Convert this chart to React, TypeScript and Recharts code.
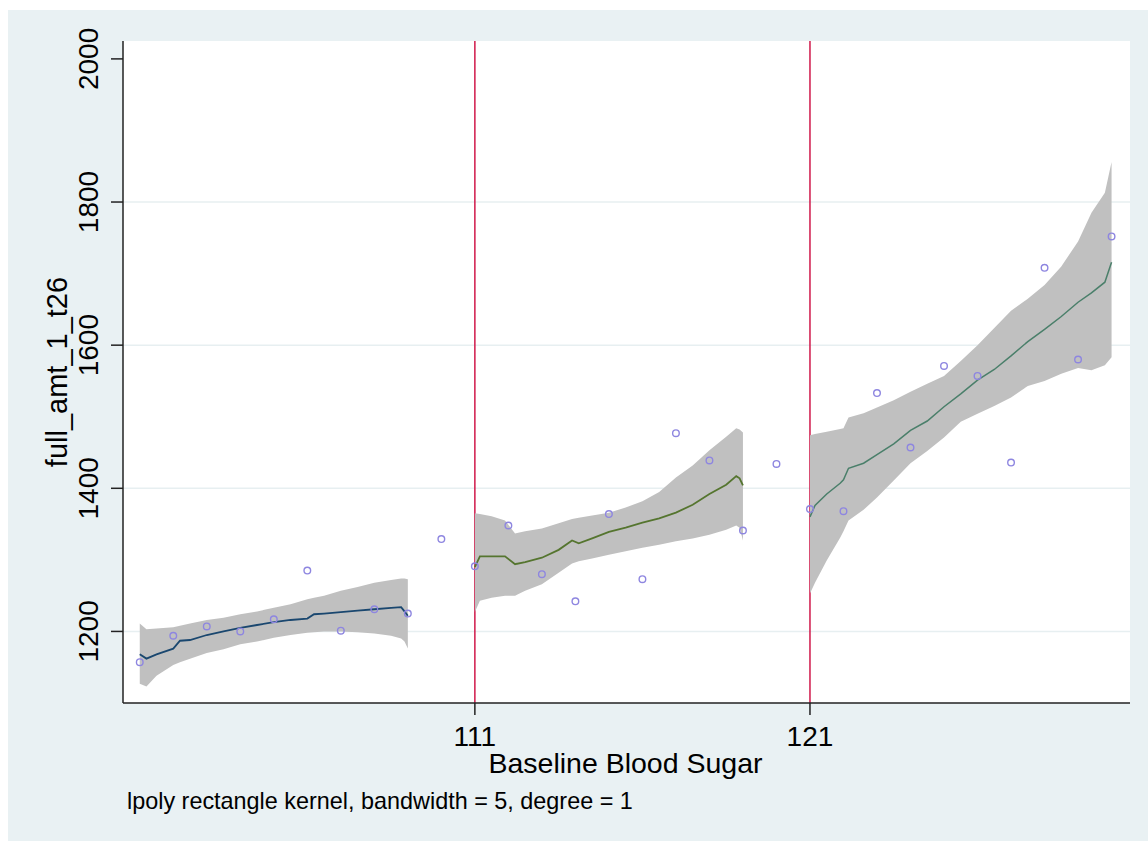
import React from 'react';
import {
  ComposedChart, Area, Line, Scatter, XAxis, YAxis, CartesianGrid, Label,
} from 'recharts';

// observed points
const sugar = [101, 102, 103, 104, 105, 106, 107, 108, 109, 110,
  111, 112, 113, 114, 115, 116, 117, 118, 119, 120,
  121, 122, 123, 124, 125, 126, 127, 128, 129, 130];
const amount = [1157, 1194, 1207, 1200, 1217, 1285, 1201, 1231, 1225, 1329,
  1291, 1348, 1280, 1242, 1364, 1273, 1477, 1439, 1341, 1434,
  1371, 1368, 1533, 1457, 1571, 1557, 1436, 1708, 1580, 1752];

// lpoly fit + CI, below 111
const seg1X = [101, 101.2, 101.5, 102, 102.2, 102.5, 103, 103.5, 104, 104.5, 105, 105.5, 106, 106.2, 106.5, 107, 107.5, 108, 108.5, 108.8, 108.9, 109];
const seg1Fit = [1168, 1162, 1168, 1176, 1187, 1188, 1195, 1200, 1205, 1209, 1213, 1216, 1218, 1224, 1225, 1227, 1229, 1231, 1233, 1234, 1228, 1222];
const seg1Hi = [1211, 1203, 1204, 1206, 1208, 1211, 1216, 1219, 1224, 1228, 1233, 1238, 1245, 1247, 1250, 1257, 1262, 1268, 1272, 1274, 1274, 1273];
const seg1Lo = [1127, 1123, 1138, 1153, 1157, 1162, 1170, 1175, 1182, 1186, 1191, 1195, 1198, 1199, 1200, 1200, 1199, 1197, 1194, 1190, 1186, 1176];

// 111 - 119
const seg2X = [111, 111.15, 111.5, 111.9, 112.2, 112.5, 113, 113.5, 113.9, 114.1, 114.5, 115, 115.5, 116, 116.5, 117, 117.5, 118, 118.5, 118.8, 118.9, 119];
const seg2Fit = [1290, 1305, 1305, 1305, 1294, 1297, 1303, 1314, 1327, 1323, 1330, 1339, 1345, 1352, 1358, 1366, 1377, 1392, 1405, 1417, 1414, 1404];
const seg2Hi = [1365, 1364, 1361, 1355, 1337, 1340, 1344, 1351, 1357, 1359, 1362, 1366, 1373, 1382, 1395, 1415, 1432, 1453, 1472, 1484, 1482, 1478];
const seg2Lo = [1227, 1243, 1247, 1250, 1250, 1257, 1266, 1282, 1295, 1298, 1302, 1307, 1312, 1317, 1321, 1326, 1330, 1335, 1342, 1348, 1345, 1327];

// 121 and up
const seg3X = [121, 121.15, 121.5, 121.9, 122, 122.15, 122.6, 123, 123.5, 124, 124.5, 125, 125.5, 126, 126.5, 127, 127.5, 128, 128.5, 129, 129.4, 129.8, 130];
const seg3Fit = [1360, 1376, 1392, 1407, 1412, 1428, 1435, 1447, 1462, 1481, 1494, 1514, 1532, 1551, 1566, 1585, 1605, 1622, 1640, 1660, 1673, 1688, 1716];
const seg3Hi = [1474, 1476, 1479, 1483, 1484, 1499, 1505, 1513, 1523, 1535, 1546, 1557, 1578, 1600, 1624, 1648, 1665, 1684, 1710, 1745, 1785, 1813, 1856];
const seg3Lo = [1253, 1268, 1299, 1331, 1340, 1355, 1370, 1387, 1411, 1435, 1452, 1471, 1493, 1504, 1515, 1527, 1543, 1550, 1560, 1568, 1565, 1572, 1583];

const cutoffs = [111, 121];
const yTicks = [1200, 1400, 1600, 1800, 2000];
const gridValues = [1200, 1400, 1600, 1800];

const build = (xs: number[], fit: number[], lo: number[], hi: number[]) =>
  xs.map((x, i) => ({ x, fit: fit[i], lo: lo[i], hi: hi[i] }));

const seg1 = build(seg1X, seg1Fit, seg1Lo, seg1Hi);
const seg2 = build(seg2X, seg2Fit, seg2Lo, seg2Hi);
const seg3 = build(seg3X, seg3Fit, seg3Lo, seg3Hi);
const points = sugar.map((x, i) => ({ x, y: amount[i] }));

const FONT = '"Liberation Sans", Arial, sans-serif';
const band = (d: any) => [d.lo, d.hi];

const YTick = (props: any) => {
  const { x, y, payload } = props;
  return (
    <text x={x} y={y} transform={`rotate(-90, ${x}, ${y})`} textAnchor="middle"
      fontSize={28} fontFamily={FONT} fill="#000">
      {payload.value}
    </text>
  );
};

const XTick = (props: any) => {
  const { x, y, payload } = props;
  return (
    <text x={x} y={y - 1} textAnchor="middle" fontSize={28} fontFamily={FONT} fill="#000">
      {payload.value}
    </text>
  );
};

const Hollow = (props: any) => {
  const { cx, cy } = props;
  return <circle cx={cx} cy={cy} r={3.3} fill="none" stroke="#8e86e0" strokeWidth={1.4} />;
};

export default function App() {
  return (
    <div style={{ position: 'fixed', left: 8, top: 10, width: 1140, height: 831, background: '#e9f1f3' }}>
      <ComposedChart width={1140} height={831} margin={{ top: 31, right: 18, left: 0, bottom: 0 }}>
        <CartesianGrid vertical={false} horizontalValues={gridValues} stroke="#e7eff1" strokeWidth={1.5} fill="#fff" />
        {/* cutoff lines sit behind the CI bands, so draw them as a grid */}
        <CartesianGrid horizontal={false} verticalValues={cutoffs} stroke="#d0184a" strokeWidth={1.5} />
        <XAxis type="number" dataKey="x" domain={[100.5, 130.55]} ticks={cutoffs} allowDataOverflow
          height={138} tickSize={12} tickMargin={32} tick={<XTick />}
          axisLine={{ stroke: '#222', strokeWidth: 1.5 }} tickLine={{ stroke: '#222', strokeWidth: 1.5 }}>
          <Label content={(p: any) => (
            <text x={p.viewBox.x + p.viewBox.width / 2 - 1} y={p.viewBox.y + 70} textAnchor="middle"
              fontSize={28.5} fontFamily={FONT} fill="#000">Baseline Blood Sugar</text>
          )} />
          <Label content={(p: any) => (
            <text x={119} y={p.viewBox.y + 106} fontSize={23.4} fontFamily={FONT} fill="#000">
              lpoly rectangle kernel, bandwidth = 5, degree = 1
            </text>
          )} />
        </XAxis>
        <YAxis type="number" domain={[1100, 2025]} ticks={yTicks} allowDataOverflow
          width={115} tickSize={12} tickMargin={13} tick={<YTick />}
          axisLine={{ stroke: '#222', strokeWidth: 1.5 }} tickLine={{ stroke: '#222', strokeWidth: 1.5 }}>
          <Label content={(p: any) => {
            const cx = p.viewBox.x + 59;
            const cy = p.viewBox.y + p.viewBox.height / 2;
            return (
              <text x={cx} y={cy} transform={`rotate(-90, ${cx}, ${cy})`} textAnchor="middle"
                fontSize={29} fontFamily={FONT} fill="#000">full_amt_1_t26</text>
            );
          }} />
        </YAxis>
        <Area data={seg1} dataKey={band} type="linear" stroke="none" fill="#c0c0c0" fillOpacity={1} isAnimationActive={false} />
        <Area data={seg2} dataKey={band} type="linear" stroke="none" fill="#c0c0c0" fillOpacity={1} isAnimationActive={false} />
        <Area data={seg3} dataKey={band} type="linear" stroke="none" fill="#c0c0c0" fillOpacity={1} isAnimationActive={false} />
        <Line data={seg1} dataKey="fit" type="linear" stroke="#1a476f" strokeWidth={1.8} dot={false} isAnimationActive={false} />
        <Line data={seg2} dataKey="fit" type="linear" stroke="#55752f" strokeWidth={1.8} dot={false} isAnimationActive={false} />
        <Line data={seg3} dataKey="fit" type="linear" stroke="#4a7f6a" strokeWidth={1.5} dot={false} isAnimationActive={false} />
        <Scatter data={points} dataKey="y" shape={<Hollow />} isAnimationActive={false} />
      </ComposedChart>
    </div>
  );
}
